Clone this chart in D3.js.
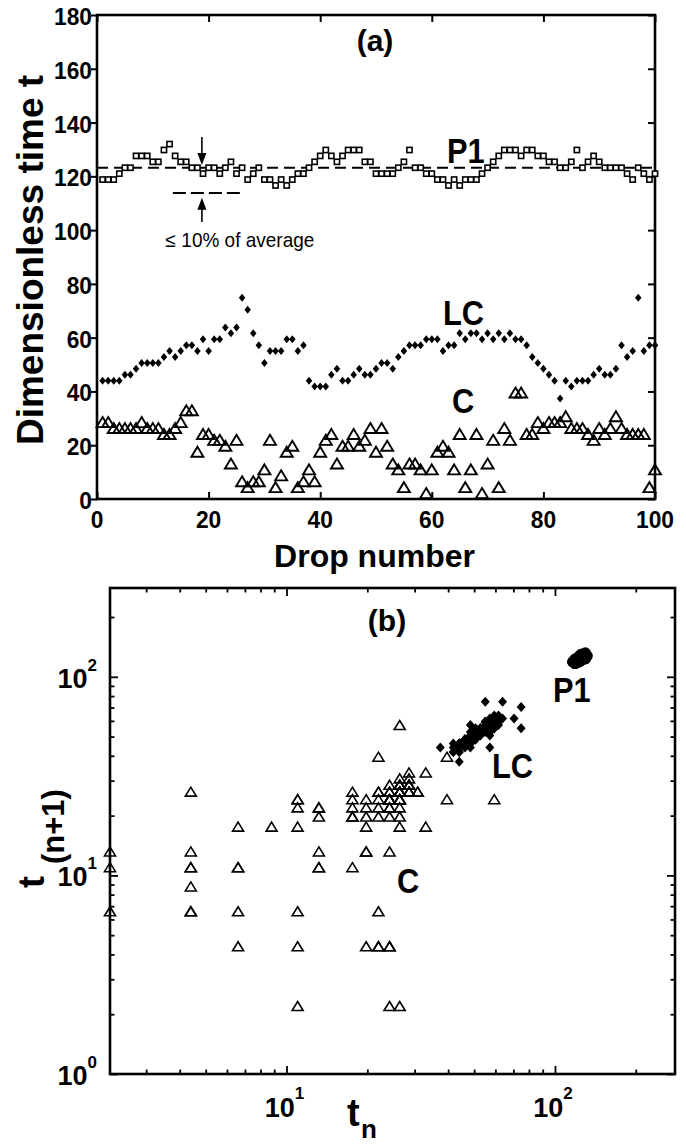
<!DOCTYPE html>
<html><head><meta charset="utf-8">
<script src="https://cdn.jsdelivr.net/npm/d3@7"></script>
<style>
html,body{margin:0;padding:0;background:#fff;}
text{font-family:"Liberation Sans",Arial,sans-serif;fill:#000;}
</style></head>
<body>
<script>
// ---------------- DATA ----------------
const drops = d3.range(1, 101);
const P1 = [118.8,118.8,118.8,121,123.2,123.2,127.6,127.6,127.6,125.4,
 125.4,129.8,132,127.6,125.4,125.4,123.2,123.2,121,123.2,
 123.2,121,123.2,125.4,121,123.2,118.8,121,123.2,118.8,
 118.8,116.6,118.8,116.6,118.8,121,121,123.2,125.4,127.6,
 129.8,127.6,125.4,127.6,129.8,129.8,129.8,125.4,125.4,121,
 121,121,121,123.2,125.4,129.8,123.2,123.2,121,121,
 118.8,118.8,116.6,118.8,116.6,118.8,118.8,118.8,121,123.2,
 125.4,127.6,129.8,129.8,129.8,127.6,129.8,129.8,127.6,127.6,
 125.4,125.4,123.2,123.2,125.4,129.8,123.2,125.4,127.6,125.4,
 123.2,123.2,123.2,123.2,121,118.8,123.2,121,118.8,121];
const LC = [44,44,44,44,46.2,46.2,48.4,50.6,50.6,50.6,
 50.6,52.8,55,52.8,55,57.2,57.2,55,59.4,55,
 59.4,59.4,63.8,61.6,63.8,74.8,70.4,61.6,57.2,50.6,
 55,55,55,59.4,59.4,55,57.2,44,41.8,41.8,
 41.8,46.2,48.4,44,44,46.2,48.4,46.2,46.2,48.4,
 50.6,50.6,48.4,52.8,55,57.2,57.2,57.2,59.4,59.4,
 59.4,55,57.2,57.2,61.6,59.4,61.6,61.6,59.4,61.6,
 59.4,61.6,59.4,61.6,59.4,59.4,57.2,52.8,50.6,48.4,
 46.2,44,37.4,44,41.8,44,44,44,46.2,48.4,
 46.2,46.2,48.4,57.2,52.8,55,74.8,55,57.2,57.2];
const C = [28.6,28.6,26.4,26.4,26.4,26.4,26.4,28.6,26.4,26.4,
 26.4,24.2,24.2,26.4,28.6,33,33,17.6,24.2,24.2,
 22,22,19.8,13.2,22,6.6,4.4,6.6,6.6,11,
 22,4.4,8.8,17.6,19.8,4.4,6.6,11,6.6,17.6,
 22,24.2,13.2,19.8,19.8,24.2,19.8,22,26.4,17.6,
 26.4,19.8,13.2,11,4.4,13.2,13.2,11,2.2,11,
 17.6,19.8,17.6,11,24.2,4.4,11,24.2,2.2,13.2,
 22,4.4,26.4,22,39.6,39.6,24.2,24.2,28.6,26.4,
 28.6,28.6,28.6,30.8,26.4,26.4,26.4,24.2,22,26.4,
 24.2,26.4,30.8,26.4,24.2,24.2,24.2,24.2,4.4,11];
// return-map points visible in (b) that are not part of the 100 drops in (a)
const extraCPairs = [[26.4,57.2],[57.2,59.4],[59.4,24.2],[26.4,2.2],[2.2,6.6]];

const xTicksA = [0,20,40,60,80,100];
const yTicksA = [0,20,40,60,80,100,120,140,160,180];
const avgT = 123.2, bandT = 113.8, bandRange = [13.6, 25.6];
const arrowN = 18.8, downArrow = [134.6, 124.2], upArrow = [103, 112];

const xMajorB = [10, 100], xMinorB = [3,4,5,6,7,8,9,20,30,40,50,60,70,80,90,200];
const yMajorB = [1, 10, 100], yMinorB = [2,3,4,5,6,7,8,9,20,30,40,50,60,70,80,90,200];
const xLabelsB = [[10,"1"],[100,"2"]];
const yLabelsB = [[1,"0"],[10,"1"],[100,"2"]];

// ---------------- SETUP ----------------
const W = 686, H = 1146;
const svg = d3.select("body").append("svg").attr("width", W).attr("height", H);
svg.append("rect").attr("width", W).attr("height", H).attr("fill", "#fff");

const xA = d3.scaleLinear().domain([0,100]).range([97,655]);
const yA = d3.scaleLinear().domain([0,180]).range([499,15]);
const xB = d3.scaleLog().domain([2.2,280]).range([110,675]);
const yB = d3.scaleLog().domain([1,280]).range([1074,588]);

const triPath = (w,h) => `M0,${-h/2}L${w/2},${h/2}L${-w/2},${h/2}Z`;
const diaPath = (w,h) => `M0,${-h/2}L${w/2},0L0,${h/2}L${-w/2},0Z`;

function label(x, y, txt, size, sx, anchor, weight) {
  return svg.append("text").attr("transform", `translate(${x},${y}) scale(${sx},1)`)
    .attr("font-size", size).attr("font-weight", weight || "bold")
    .attr("text-anchor", anchor || "start").text(txt);
}
function styleAxis(g, w) {
  g.select(".domain").remove();
  g.selectAll(".tick line").attr("stroke", "#000").attr("stroke-width", w);
}

// ---------------- PANEL (a) ----------------
const ga = svg.append("g");
styleAxis(ga.append("g").attr("transform", `translate(0,${yA(0)})`)
  .call(d3.axisBottom(xA).tickValues(xTicksA).tickSize(-7).tickFormat("")), 2);
styleAxis(ga.append("g").attr("transform", `translate(0,${yA(180)})`)
  .call(d3.axisTop(xA).tickValues(xTicksA).tickSize(-7).tickFormat("")), 2);
styleAxis(ga.append("g").attr("transform", `translate(${xA(0)},0)`)
  .call(d3.axisLeft(yA).tickValues(yTicksA).tickSize(6).tickFormat("")), 2);
styleAxis(ga.append("g").attr("transform", `translate(${xA(100)},0)`)
  .call(d3.axisRight(yA).tickValues(yTicksA).tickSize(-7).tickFormat("")), 2);
ga.append("rect").attr("x", xA(0)).attr("y", yA(180))
  .attr("width", xA(100)-xA(0)).attr("height", yA(0)-yA(180))
  .attr("fill", "none").attr("stroke", "#000").attr("stroke-width", 2.6);
xTicksA.forEach(v => label(xA(v), 528, String(v), 24, 0.95, "middle"));
yTicksA.forEach(v => label(92, yA(v)+10, String(v), 24, 0.95, "end"));

ga.append("line").attr("x1", xA(0)).attr("x2", xA(100)).attr("y1", yA(avgT)).attr("y2", yA(avgT))
  .attr("stroke", "#000").attr("stroke-width", 2).attr("stroke-dasharray", "11,6");
ga.append("line").attr("x1", xA(bandRange[0])).attr("x2", xA(bandRange[1])).attr("y1", yA(bandT)).attr("y2", yA(bandT))
  .attr("stroke", "#000").attr("stroke-width", 2).attr("stroke-dasharray", "13,5");
function arrow(x, yFrom, yTip) {
  const dir = yTip > yFrom ? 1 : -1;
  ga.append("line").attr("x1", x).attr("x2", x).attr("y1", yFrom).attr("y2", yTip - dir*10)
    .attr("stroke", "#000").attr("stroke-width", 1.6);
  ga.append("path").attr("d", `M${x},${yTip}L${x-4.5},${yTip-dir*12}L${x+4.5},${yTip-dir*12}Z`).attr("fill", "#000");
}
arrow(xA(arrowN), yA(downArrow[0]), yA(downArrow[1]));
arrow(xA(arrowN), yA(upArrow[0]), yA(upArrow[1]));
label(240, 247, "\u2264 10% of average", 20, 0.95, "middle", "normal");

ga.append("g").selectAll("path").data(C).join("path")
  .attr("transform", (d,i) => `translate(${xA(drops[i])},${yA(d)})`)
  .attr("d", triPath(12,10)).attr("fill", "none").attr("stroke", "#000").attr("stroke-width", 1.9);
ga.append("g").selectAll("path").data(LC).join("path")
  .attr("transform", (d,i) => `translate(${xA(drops[i])},${yA(d)})`)
  .attr("d", diaPath(6.5,8)).attr("fill", "#000");
ga.append("g").selectAll("rect").data(P1).join("rect")
  .attr("x", (d,i) => xA(drops[i]) - 2.6).attr("y", d => yA(d) - 2.6)
  .attr("width", 5.2).attr("height", 5.2)
  .attr("fill", "#fff").attr("stroke", "#000").attr("stroke-width", 1.6);

label(375, 51, "(a)", 30, 1, "middle");
label(447, 163, "P1", 35, 0.88);
label(443, 325, "LC", 35, 0.88);
label(452, 413, "C", 35, 0.88);
label(374.5, 567, "Drop number", 32, 1, "middle");
svg.append("text").attr("transform", "translate(43,260) rotate(-90)")
  .attr("font-size", 37).attr("font-weight", "bold").attr("text-anchor", "middle")
  .text("Dimensionless time t");

// ---------------- PANEL (b) ----------------
const gb = svg.append("g");
function logTicks(axisGen, scale, vals, size, transform) {
  styleAxis(gb.append("g").attr("transform", transform)
    .call(axisGen(scale).tickValues(vals).tickSize(size).tickFormat("")), 1.8);
}
logTicks(d3.axisBottom, xB, xMajorB, -8, `translate(0,${yB(1)})`);
logTicks(d3.axisBottom, xB, xMinorB, -4.5, `translate(0,${yB(1)})`);
logTicks(d3.axisTop, xB, xMajorB, -8, `translate(0,${yB(280)})`);
logTicks(d3.axisTop, xB, xMinorB, -4.5, `translate(0,${yB(280)})`);
logTicks(d3.axisLeft, yB, yMajorB, -8, `translate(${xB(2.2)},0)`);
logTicks(d3.axisLeft, yB, yMinorB, -4.5, `translate(${xB(2.2)},0)`);
logTicks(d3.axisRight, yB, yMajorB, -8, `translate(${xB(280)},0)`);
logTicks(d3.axisRight, yB, yMinorB, -4.5, `translate(${xB(280)},0)`);
gb.append("rect").attr("x", xB(2.2)).attr("y", yB(280))
  .attr("width", xB(280)-xB(2.2)).attr("height", yB(1)-yB(280))
  .attr("fill", "none").attr("stroke", "#000").attr("stroke-width", 2.6);

function powLabel(x, y, exp, anchor, supDy) {
  const t = svg.append("text").attr("x", x).attr("y", y).attr("text-anchor", anchor)
    .attr("font-size", 27).attr("font-weight", "bold");
  t.append("tspan").text("10");
  t.append("tspan").attr("font-size", 17).attr("dy", supDy).text(exp);
}
xLabelsB.forEach(([v,e]) => powLabel(xB(v) - 2, 1117, e, "middle", -18));
yLabelsB.forEach(([v,e]) => powLabel(97, yB(v) + 11, e, "end", -17));

const pairs = arr => d3.range(arr.length - 1).map(i => [arr[i], arr[i+1]]);
const cPairs = pairs(C).concat(extraCPairs);

gb.append("g").selectAll("path").data(pairs(LC)).join("path")
  .attr("transform", d => `translate(${xB(d[0])},${yB(d[1])})`)
  .attr("d", diaPath(9,10)).attr("fill", "#000");
gb.append("g").selectAll("path").data(cPairs).join("path")
  .attr("transform", d => `translate(${xB(d[0])},${yB(d[1])})`)
  .attr("d", triPath(11,9)).attr("fill", "none").attr("stroke", "#000").attr("stroke-width", 1.6);
gb.append("g").selectAll("circle").data(pairs(P1)).join("circle")
  .attr("cx", d => xB(d[0])).attr("cy", d => yB(d[1])).attr("r", 5.5).attr("fill", "#000");

label(387, 631, "(b)", 30, 1, "middle");
label(553, 702, "P1", 35, 0.88);
label(492, 778, "LC", 35, 0.88);
label(397, 893, "C", 35, 0.88);

svg.append("text").attr("x", 347).attr("y", 1126).attr("font-size", 38).attr("font-weight", "bold").text("t");
svg.append("text").attr("x", 361).attr("y", 1138).attr("font-size", 26).attr("font-weight", "bold").text("n");
svg.append("text").attr("transform", "translate(44,888) rotate(-90)").attr("font-size", 36).attr("font-weight", "bold").text("t");
svg.append("text").attr("transform", "translate(64,864) rotate(-90)").attr("font-size", 31).attr("font-weight", "bold").text("(n+1)");
</script>
</body></html>
